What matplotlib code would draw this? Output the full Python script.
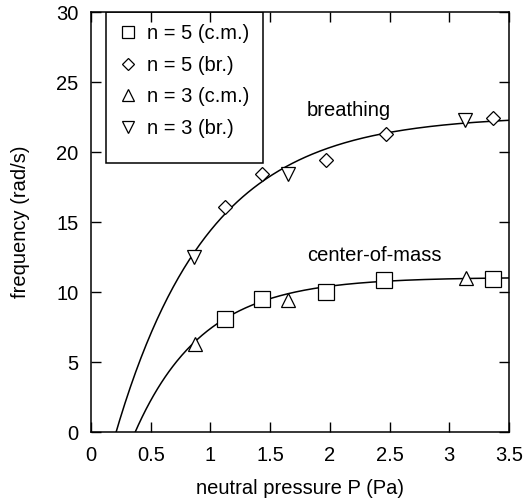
import matplotlib
matplotlib.use('Agg')
import matplotlib.pyplot as plt
import numpy as np
from matplotlib.patches import Rectangle

plt.rcParams['font.family'] = ['Liberation Sans', 'DejaVu Sans']

# measured points
p_n5_cm = [1.12, 1.43, 1.97, 2.45, 3.37]
f_n5_cm = [8.1, 9.5, 10.0, 10.85, 10.9]
p_n5_br = [1.12, 1.43, 1.97, 2.47, 3.37]
f_n5_br = [16.1, 18.4, 19.4, 21.3, 22.4]
p_n3_cm = [0.87, 1.65, 3.14]
f_n3_cm = [6.3, 9.4, 11.0]
p_n3_br = [0.865, 1.65, 3.13]
f_n3_br = [12.5, 18.4, 22.3]

# fit curves f = A*(1 - exp(-(P-P0)/tau))
fit_br = (22.6, 0.21, 0.78)
fit_cm = (11.05, 0.37, 0.57)

def fit(params, p):
    A, p0, tau = params
    return A * (1 - np.exp(-(p - p0) / tau))

fs = 14.5

fig = plt.figure(figsize=(5.24, 5.01), dpi=100)
ax = fig.add_axes([0.1737, 0.1377, 0.7977, 0.8383])

pp = np.linspace(0.15, 3.5, 300)
ax.plot(pp, fit(fit_br, pp), color='k', lw=1.1)
pp2 = np.linspace(0.3, 3.5, 300)
ax.plot(pp2, fit(fit_cm, pp2), color='k', lw=1.1)

mk = dict(mfc='white', mec='k', mew=0.9, ls='none', zorder=5)
h1, = ax.plot(p_n5_cm, f_n5_cm, 's', ms=11, label='n = 5 (c.m.)', **mk)
h2, = ax.plot(p_n5_br, f_n5_br, 'D', ms=7.5, label='n = 5 (br.)', **mk)
h3, = ax.plot(p_n3_cm, f_n3_cm, '^', ms=10, label='n = 3 (c.m.)', **mk)
h4, = ax.plot(p_n3_br, f_n3_br, 'v', ms=10, label='n = 3 (br.)', **mk)

ax.text(2.16, 23.0, 'breathing', fontsize=fs, ha='center', va='center')
ax.text(2.37, 12.6, 'center-of-mass', fontsize=fs, ha='center', va='center')

ax.set_xlim(0, 3.5)
ax.set_ylim(0, 30)
ax.set_xticks(np.arange(0, 3.51, 0.5))
ax.set_xticklabels(['0', '0.5', '1', '1.5', '2', '2.5', '3', '3.5'])
ax.set_yticks(np.arange(0, 31, 5))
ax.tick_params(direction='in', length=7, width=1, top=True, right=True,
               labelsize=fs)
ax.tick_params(axis='x', pad=10)
ax.tick_params(axis='y', pad=9)
for s in ax.spines.values():
    s.set_linewidth(1.1)
ax.set_xlabel('neutral pressure P (Pa)', fontsize=fs, labelpad=10)
ax.set_ylabel('frequency (rad/s)', fontsize=fs, labelpad=19)

ax.add_patch(Rectangle((0.035, 0.64), 0.376, 0.36, transform=ax.transAxes,
                       fill=False, ec='k', lw=1.1, zorder=6))
ax.legend(handles=[h1, h2, h3, h4], loc='upper left', bbox_to_anchor=(0.035, 1.0),
          frameon=False, fontsize=fs, handletextpad=0.45, labelspacing=0.62,
          borderaxespad=0.2, handlelength=1.0, markerscale=0.85)

fig.savefig('out.png', dpi=100)
